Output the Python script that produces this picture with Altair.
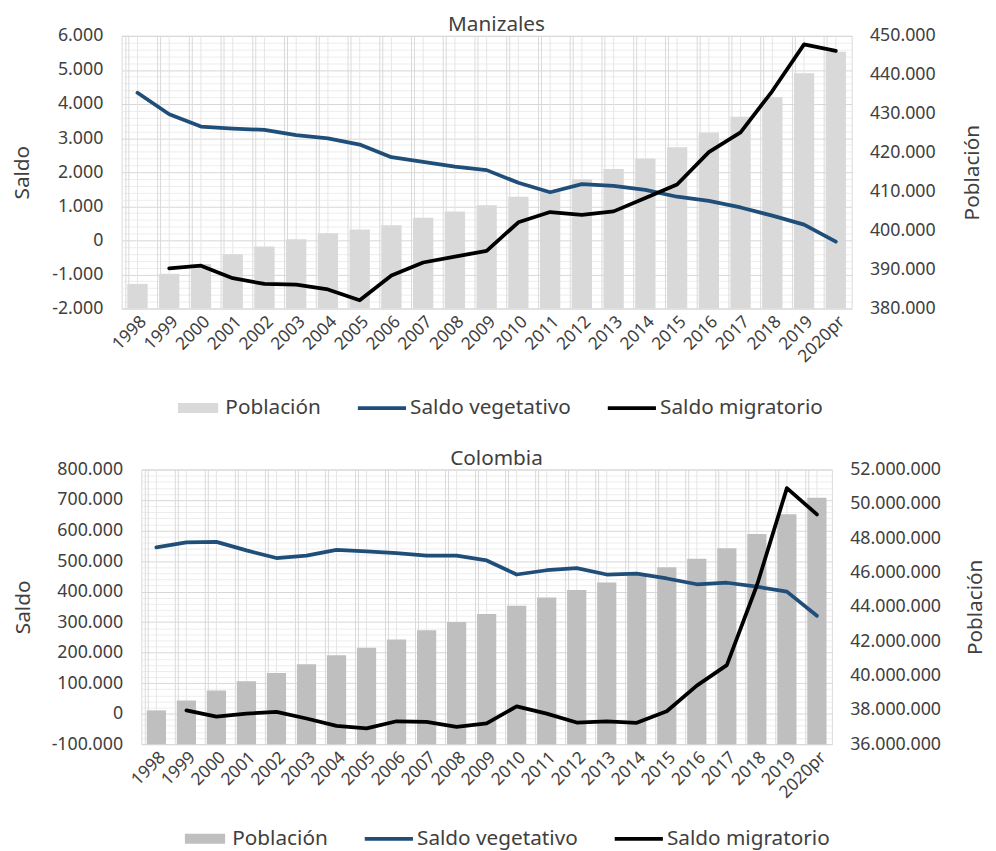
import altair as alt
import pandas as pd

FONT = "Noto Sans"
TXT = "#404040"

years = ["1998", "1999", "2000", "2001", "2002", "2003", "2004", "2005", "2006", "2007",
         "2008", "2009", "2010", "2011", "2012", "2013", "2014", "2015", "2016", "2017",
         "2018", "2019", "2020pr"]
series = ["Población", "Saldo vegetativo", "Saldo migratorio"]

man_pob = [386300, 388900, 391400, 393900, 395900, 397800, 399300, 400300, 401400, 403300,
           404900, 406500, 408700, 410000, 413200, 415800, 418500, 421400, 425200, 429200,
           434300, 440400, 445900]
man_veg = [4330, 3700, 3340, 3280, 3240, 3090, 2990, 2810, 2440, 2300, 2160, 2060, 1690,
           1410, 1650, 1600, 1480, 1280, 1160, 965, 725, 460, -40]
man_mig = [None, -820, -745, -1110, -1280, -1300, -1440, -1760, -1030, -650, -480, -310,
           530, 830, 750, 850, 1240, 1640, 2590, 3170, 4380, 5750, 5560]

col_pob = [37970000, 38550000, 39130000, 39660000, 40140000, 40660000, 41180000, 41620000,
           42100000, 42640000, 43120000, 43580000, 44060000, 44540000, 44980000, 45420000,
           45840000, 46300000, 46800000, 47410000, 48240000, 49390000, 50350000]
col_veg = [545000, 561000, 563000, 535000, 510000, 518000, 537000, 532000, 526000, 518000,
           518000, 502000, 456000, 470000, 477000, 456000, 459000, 443000, 424000, 429000,
           416000, 400000, 321000]
col_mig = [None, 11000, -10000, 0, 6000, -16000, -40000, -48000, -25000, -27000, -43000,
           -32000, 24000, 0, -29000, -25000, -30000, 8000, 92000, 159000, 420000, 739000,
           653000]

man_left = dict(lo=-2000, hi=6000, major=1000, minor=200)
man_right = dict(lo=380000, hi=450000, step=10000)
col_left = dict(lo=-100000, hi=800000, major=100000, minor=20000)
col_right = dict(lo=36000000, hi=52000000, step=2000000)

SYMBOL_SHAPE = ("datum.value === 'Población' ? 'M-0.78,-0.23H1.04V0.23H-0.78Z' : "
                "'M-1,-0.085H1.18V0.085H-1Z'")


def panel(title, pob, veg, mig, left, right, bar_color, W, H, legx, legy, ltx, rtx):
    df_bar = pd.DataFrame({"year": years, "valor": pob, "serie": "Población"})
    rows = []
    for y, v in zip(years, veg):
        rows.append({"year": y, "valor": v, "serie": "Saldo vegetativo"})
    for y, v in zip(years, mig):
        if v is not None:
            rows.append({"year": y, "valor": v, "serie": "Saldo migratorio"})
    df_line = pd.DataFrame(rows)

    xscale = alt.Scale(paddingInner=0.36, paddingOuter=0.18)
    x = alt.X("year:N", sort=years, title=None, scale=xscale,
              axis=alt.Axis(labelAngle=-45, labelAlign="right", labelBaseline="top",
                            labelFontSize=17.5, labelFont=FONT, labelColor=TXT,
                            labelPadding=4, domain=False, ticks=False, grid=False))
    xb = alt.X("year:N", sort=years, title=None, scale=xscale, bandPosition=0)
    color = alt.Scale(domain=series, range=[bar_color, "#1f4e79", "#000000"])

    centers = alt.Chart(df_bar).mark_rule(color="#e6e6e6", strokeWidth=1).encode(
        x=x, y=alt.value(0), y2=alt.value(H))
    bounds_a = alt.Chart(df_bar).mark_rule(color="#d9d9d9", strokeWidth=1, xOffset=-1.5).encode(
        x=xb, y=alt.value(0), y2=alt.value(H))
    bounds_b = alt.Chart(df_bar).mark_rule(color="#d9d9d9", strokeWidth=1, xOffset=1.5).encode(
        x=xb, y=alt.value(0), y2=alt.value(H))

    bars = alt.Chart(df_bar).mark_bar().encode(
        x=x,
        y=alt.Y("valor:Q", title="Población",
                scale=alt.Scale(domain=[right["lo"], right["hi"]], nice=False, zero=False),
                axis=alt.Axis(orient="right", values=list(range(right["lo"], right["hi"] + 1, right["step"])),
                              format=",d", grid=False, domain=False, ticks=False,
                              labelFontSize=18, labelFont=FONT, labelColor=TXT, labelPadding=18,
                              titleFontSize=21, titleFont=FONT, titleColor=TXT,
                              titleFontWeight="normal", titleAngle=270, titleX=rtx,
                              titleAlign="center", titleBaseline="middle")),
        y2=alt.datum(right["lo"]),
        color=alt.Color("serie:N", scale=color,
                        legend=alt.Legend(title=None, orient="none", legendX=legx, legendY=legy,
                                          direction="horizontal", labelFontSize=21,
                                          labelFont=FONT, labelColor=TXT, labelLimit=0,
                                          symbolSize=2000, labelOffset=8, columnPadding=37,
                                          symbolStrokeWidth=0,
                                          symbolType={"expr": SYMBOL_SHAPE})),
    )

    mj = left["major"]
    lines = alt.Chart(df_line).mark_line(strokeWidth=3.8, strokeCap="round", strokeJoin="round").encode(
        x=x,
        y=alt.Y("valor:Q", title="Saldo",
                scale=alt.Scale(domain=[left["lo"], left["hi"]], nice=False),
                axis=alt.Axis(orient="left", values=list(range(left["lo"], left["hi"] + 1, left["minor"])),
                              format=",d", labelExpr=f"datum.value % {mj} === 0 ? datum.label : ''",
                              labelOverlap=False, grid=True,
                              gridColor={"condition": {"test": f"datum.value % {mj} === 0", "value": "#d6d6d6"},
                                         "value": "#ededed"},
                              domain=False, ticks=False,
                              labelFontSize=18, labelFont=FONT, labelColor=TXT, labelPadding=19,
                              titleFontSize=21, titleFont=FONT, titleColor=TXT,
                              titleFontWeight="normal", titleAngle=270, titleX=ltx,
                              titleAlign="center", titleBaseline="middle")),
        color=alt.Color("serie:N", scale=color, legend=None),
        detail="serie:N",
    )

    return alt.layer(bounds_a, bounds_b, centers, bars, lines).resolve_scale(y="independent").properties(
        width=W, height=H,
        title=alt.Title(title, fontSize=21, fontWeight="normal", color=TXT, font=FONT,
                        anchor="middle", dx=10, offset=-8),
    )


top = panel("Manizales", man_pob, man_veg, man_mig, man_left, man_right, "#d9d9d9",
            739, 276, 52, 354, -100, 122)
bottom = panel("Colombia", col_pob, col_veg, col_mig, col_left, col_right, "#bfbfbf",
               699, 278, 39, 351, -119, 145)

chart = alt.vconcat(top, bottom, spacing=163, center=True, bounds="flush").resolve_scale(
    color="independent").configure_view(stroke="#d9d9d9").properties(
    padding={"left": 3, "top": 0, "right": 2, "bottom": 0})

chart.save("out.html", embed_options={
    "renderer": "svg", "actions": False,
    "formatLocale": {"decimal": ",", "thousands": ".", "grouping": [3],
                     "currency": ["$", ""], "minus": "-"}})
